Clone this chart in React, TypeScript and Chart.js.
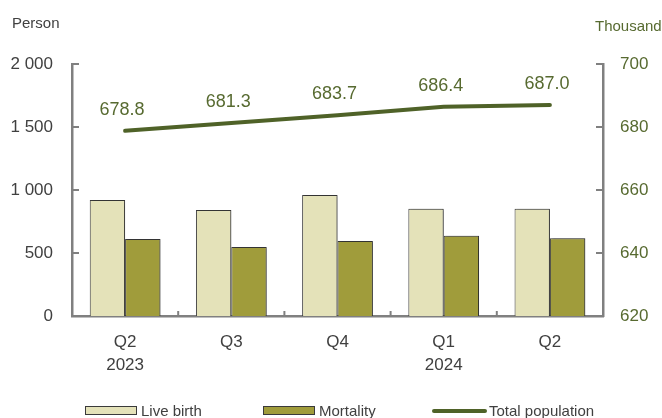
import React, { useEffect, useRef } from "react";
import { Chart, registerables } from "chart.js";

Chart.register(...registerables);

// ---- data ----
const categories: string[][] = [["Q2", "2023"], ["Q3"], ["Q4"], ["Q1", "2024"], ["Q2"]];
const liveBirth: number[] = [920, 841, 960, 852, 852];
const mortality: number[] = [611, 548, 595, 637, 617];
const totalPopulation: number[] = [678.8, 681.3, 683.7, 686.4, 687.0];
const seriesNames: string[] = ["Live birth", "Mortality", "Total population"];
const leftAxisRange: number[] = [0, 2000, 500];
const rightAxisRange: number[] = [620, 700, 20];
const leftUnit = "Person";
const rightUnit = "Thousand";

// ---- styles ----
const FONT = "'Liberation Sans', Arial, sans-serif";
const TEXT = "#404040";
const OLIVE = "#4f6228";
const OLIVE_TEXT = "#576a30";
const AXIS = "#808080";
const LIVE_FILL = "#e4e2b9";
const MORT_FILL = "#a09c3b";
const BAR_BORDER = "#3a3a3a";

const fmtThousands = (v: number) => String(v).replace(/\B(?=(\d{3})+(?!\d))/g, " ");

const innerTicks = {
  id: "innerTicks",
  afterDraw(chart: any) {
    const { ctx, chartArea } = chart;
    const y = chart.scales.y;
    const y1 = chart.scales.y1;
    const x = chart.scales.x;
    ctx.save();
    ctx.strokeStyle = AXIS;
    ctx.lineWidth = 2;
    const seg = (a: number, b: number, c: number, d: number) => {
      ctx.beginPath();
      ctx.moveTo(a, b);
      ctx.lineTo(c, d);
      ctx.stroke();
    };
    y.ticks.forEach((_: any, i: number) => {
      const py = y.getPixelForTick(i);
      seg(chartArea.left, py, chartArea.left + 7, py);
    });
    y1.ticks.forEach((_: any, i: number) => {
      const py = y1.getPixelForTick(i);
      seg(chartArea.right, py, chartArea.right - 7, py);
    });
    for (let i = 1; i < x.ticks.length; i++) {
      const px = (x.getPixelForTick(i - 1) + x.getPixelForTick(i)) / 2;
      seg(px, chartArea.bottom, px, chartArea.bottom - 5);
    }
    ctx.restore();
  },
};

const barShadow = {
  id: "barShadow",
  beforeDatasetDraw(chart: any, args: any) {
    const ds = chart.data.datasets[args.index];
    if (ds.type === "line") return;
    const ctx = chart.ctx;
    ctx.save();
    ctx.shadowColor = "rgba(0,0,0,0.35)";
    ctx.shadowOffsetX = 2;
    ctx.shadowOffsetY = 0;
    ctx.shadowBlur = 2;
  },
  afterDatasetDraw(chart: any, args: any) {
    const ds = chart.data.datasets[args.index];
    if (ds.type === "line") return;
    chart.ctx.restore();
  },
};

const lineLabels = {
  id: "lineLabels",
  afterDatasetsDraw(chart: any) {
    const ctx = chart.ctx;
    chart.data.datasets.forEach((ds: any, di: number) => {
      if (ds.type !== "line") return;
      const meta = chart.getDatasetMeta(di);
      ctx.save();
      ctx.font = `18px ${FONT}`;
      ctx.fillStyle = OLIVE_TEXT;
      ctx.textAlign = "center";
      ctx.textBaseline = "middle";
      meta.data.forEach((el: any, i: number) => {
        ctx.fillText((ds.data[i] as number).toFixed(1), el.x - 3, el.y - 21);
      });
      ctx.restore();
    });
  },
};

const unitsAndLegend = {
  id: "unitsAndLegend",
  afterDraw(chart: any) {
    const ctx = chart.ctx;
    ctx.save();
    ctx.font = `15px ${FONT}`;
    ctx.textBaseline = "alphabetic";
    ctx.textAlign = "left";
    ctx.fillStyle = TEXT;
    ctx.fillText(leftUnit, 12, 28);
    ctx.fillStyle = OLIVE_TEXT;
    ctx.fillText(rightUnit, 595, 31);

    // legend
    const starts = [85, 263, 433];
    const symW = 51;
    chart.data.datasets.forEach((ds: any, i: number) => {
      const x0 = starts[i];
      if (ds.type === "line") {
        ctx.strokeStyle = ds.borderColor;
        ctx.lineWidth = 4;
        ctx.lineCap = "round";
        ctx.beginPath();
        ctx.moveTo(x0 + 1, 411);
        ctx.lineTo(x0 + symW + 1, 411);
        ctx.stroke();
      } else {
        ctx.fillStyle = ds.backgroundColor;
        ctx.fillRect(x0, 406, symW, 9);
        ctx.strokeStyle = BAR_BORDER;
        ctx.lineWidth = 1;
        ctx.strokeRect(x0 + 0.5, 406.5, symW, 8);
      }
      ctx.fillStyle = TEXT;
      ctx.font = `15px ${FONT}`;
      ctx.fillText(ds.label, x0 + symW + 5, 416);
    });
    ctx.restore();
  },
};

export default function App() {
  const ref = useRef<HTMLCanvasElement | null>(null);

  useEffect(() => {
    document.body.style.margin = "0";
    const canvas = ref.current;
    if (!canvas) return;
    const chart = new Chart(canvas, {
      type: "bar",
      data: {
        labels: categories,
        datasets: [
          {
            type: "bar",
            label: seriesNames[0],
            data: liveBirth,
            yAxisID: "y",
            backgroundColor: LIVE_FILL,
            borderColor: BAR_BORDER,
            borderWidth: 1,
            categoryPercentage: 0.666,
            barPercentage: 1,
            order: 1,
          },
          {
            type: "bar",
            label: seriesNames[1],
            data: mortality,
            yAxisID: "y",
            backgroundColor: MORT_FILL,
            borderColor: BAR_BORDER,
            borderWidth: 1,
            categoryPercentage: 0.666,
            barPercentage: 1,
            order: 2,
          },
          {
            type: "line",
            label: seriesNames[2],
            data: totalPopulation,
            yAxisID: "y1",
            borderColor: OLIVE,
            backgroundColor: OLIVE,
            borderWidth: 4,
            pointRadius: 0,
            borderCapStyle: "round",
            tension: 0,
            order: 0,
          } as any,
        ],
      },
      options: {
        responsive: false,
        animation: false,
        layout: { padding: { top: 64, left: 0, right: 0, bottom: 0 } },
        plugins: {
          legend: { display: false },
          tooltip: { enabled: false },
        },
        scales: {
          x: {
            grid: { display: false, drawTicks: false, tickLength: 0 },
            border: { display: true, color: AXIS, width: 2.5 },
            ticks: {
              color: TEXT,
              font: { family: FONT, size: 17, lineHeight: 1.35 },
              padding: 15,
              maxRotation: 0,
              autoSkip: false,
            },
            afterFit: (s: any) => {
              s.height = 102;
            },
          },
          y: {
            position: "left",
            min: leftAxisRange[0],
            max: leftAxisRange[1],
            grid: { display: false, drawTicks: false, tickLength: 0 },
            border: { display: true, color: AXIS, width: 2.5 },
            ticks: {
              stepSize: leftAxisRange[2],
              color: TEXT,
              font: { family: FONT, size: 17 },
              padding: 19,
              callback: (v: any) => fmtThousands(Number(v)),
            },
            afterFit: (s: any) => {
              s.width = 72;
            },
          },
          y1: {
            position: "right",
            min: rightAxisRange[0],
            max: rightAxisRange[1],
            grid: { display: false, drawTicks: false, tickLength: 0 },
            border: { display: true, color: AXIS, width: 2.5 },
            ticks: {
              stepSize: rightAxisRange[2],
              color: OLIVE_TEXT,
              font: { family: FONT, size: 17 },
              padding: 17,
            },
            afterFit: (s: any) => {
              s.width = 59;
            },
          },
        },
      },
      plugins: [barShadow, lineLabels, innerTicks, unitsAndLegend],
    });
    return () => chart.destroy();
  }, []);

  return (
    <div style={{ position: "absolute", left: 0, top: 0, width: 662, height: 418, background: "#fff" }}>
      <canvas ref={ref} width={662} height={418} style={{ display: "block" }} />
    </div>
  );
}
